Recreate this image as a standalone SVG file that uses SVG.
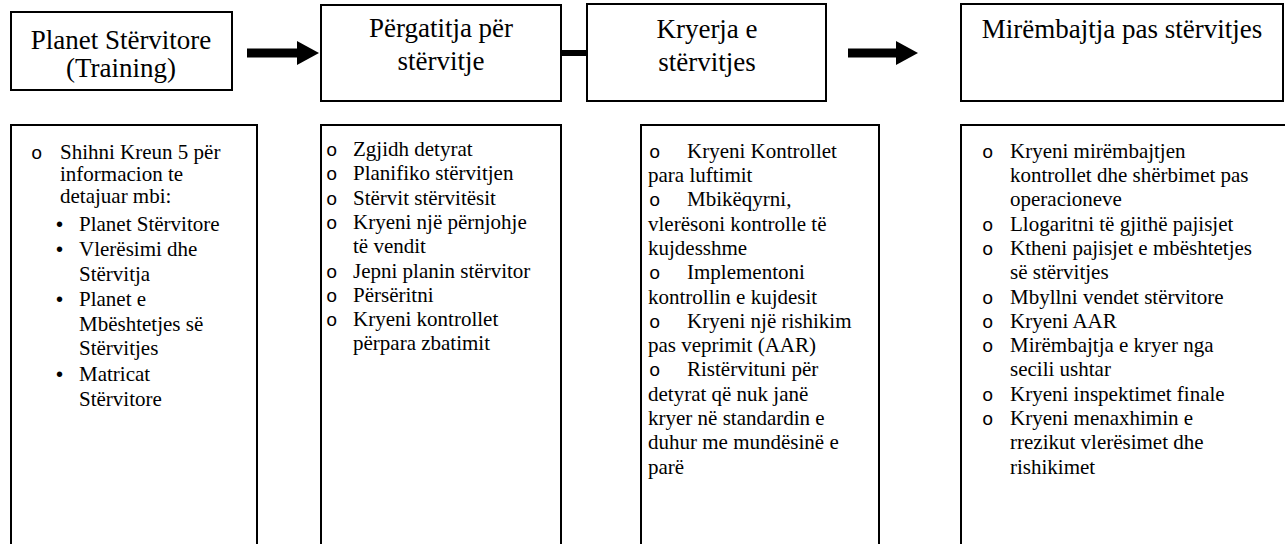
<svg xmlns="http://www.w3.org/2000/svg" width="1285" height="544" viewBox="0 0 1285 544">
<style>
.box{fill:#fff;stroke:#000;stroke-width:2}
.h{font-family:'Liberation Serif','Times New Roman',serif;font-size:27px;fill:#000;text-anchor:middle}
.t{font-family:'Liberation Serif','Times New Roman',serif;font-size:21px;fill:#000}
.o{font-family:'Liberation Mono','Courier New',monospace;font-size:19px;fill:#000}
.b{font-family:'Liberation Sans',Arial,sans-serif;font-size:20px;fill:#000}
.c{stroke:#000;fill:none}
</style>
<defs>
<marker id="head" viewBox="0 0 22 24" refX="0" refY="12" markerWidth="22" markerHeight="24" markerUnits="userSpaceOnUse" orient="auto">
<path d="M0,0 L22,12 L0,24 Z" fill="#000"/>
</marker>
</defs>
<rect width="1285" height="544" fill="#fff"/>
<g id="connectors">
<line class="c" x1="247" y1="53" x2="297" y2="53" stroke-width="9" marker-end="url(#head)"/>
<line class="c" x1="561" y1="53" x2="587" y2="53" stroke-width="6"/>
<line class="c" x1="848" y1="53" x2="896" y2="53" stroke-width="9" marker-end="url(#head)"/>
</g>
<g id="node-planet">
<rect class="box" x="11" y="12" width="221" height="78"/>
<text class="h" x="121" y="49">Planet Stërvitore</text>
<text class="h" x="121" y="77">(Training)</text>
</g>
<g id="node-pergatitja">
<rect class="box" x="321" y="5" width="240" height="96"/>
<text class="h" x="441" y="37">Përgatitja për</text>
<text class="h" x="441" y="70">stërvitje</text>
</g>
<g id="node-kryerja">
<rect class="box" x="587" y="4" width="239" height="97"/>
<text class="h" x="707" y="38">Kryerja e</text>
<text class="h" x="707" y="71">stërvitjes</text>
</g>
<g id="node-mirembajtja">
<rect class="box" x="961" y="4" width="322" height="97"/>
<text class="h" x="1122" y="38">Mirëmbajtja pas stërvitjes</text>
</g>
<g id="list-planet">
<rect class="box" x="11" y="125" width="246" height="440"/>
<text class="o" x="31" y="159">o</text>
<text class="t" x="60" y="159">Shihni Kreun 5 për</text>
<text class="t" x="60" y="181">informacion te</text>
<text class="t" x="60" y="203">detajuar mbi:</text>
<text class="b" x="56" y="231">•</text>
<text class="t" x="79" y="231">Planet Stërvitore</text>
<text class="b" x="56" y="256">•</text>
<text class="t" x="79" y="256">Vlerësimi dhe</text>
<text class="t" x="79" y="281">Stërvitja</text>
<text class="b" x="56" y="306">•</text>
<text class="t" x="79" y="306">Planet e</text>
<text class="t" x="79" y="331">Mbështetjes së</text>
<text class="t" x="79" y="355">Stërvitjes</text>
<text class="b" x="56" y="381">•</text>
<text class="t" x="79" y="381">Matricat</text>
<text class="t" x="79" y="406">Stërvitore</text>
</g>
<g id="list-pergatitja">
<rect class="box" x="321" y="125" width="240" height="440"/>
<text class="o" x="326" y="156">o</text>
<text class="o" x="326" y="180.3">o</text>
<text class="o" x="326" y="204.6">o</text>
<text class="o" x="326" y="229">o</text>
<text class="o" x="326" y="277.5">o</text>
<text class="o" x="326" y="302">o</text>
<text class="o" x="326" y="326">o</text>
<text class="t" x="353" y="156">Zgjidh detyrat</text>
<text class="t" x="353" y="180.3">Planifiko stërvitjen</text>
<text class="t" x="353" y="204.6">Stërvit stërvitësit</text>
<text class="t" x="353" y="229">Kryeni një përnjohje</text>
<text class="t" x="353" y="253">të vendit</text>
<text class="t" x="353" y="277.5">Jepni planin stërvitor</text>
<text class="t" x="353" y="302">Përsëritni</text>
<text class="t" x="353" y="326">Kryeni kontrollet</text>
<text class="t" x="353" y="350">përpara zbatimit</text>
</g>
<g id="list-kryerja">
<rect class="box" x="641" y="125" width="238" height="440"/>
<text class="o" x="649" y="157.7">o</text>
<text class="o" x="649" y="206.3">o</text>
<text class="o" x="649" y="279.2">o</text>
<text class="o" x="649" y="327.8">o</text>
<text class="o" x="649" y="376.4">o</text>
<text class="t" x="687" y="157.7">Kryeni Kontrollet</text>
<text class="t" x="648" y="182">para luftimit</text>
<text class="t" x="687" y="206.3">Mbikëqyrni,</text>
<text class="t" x="648" y="230.6">vlerësoni kontrolle të</text>
<text class="t" x="648" y="254.9">kujdesshme</text>
<text class="t" x="687" y="279.2">Implementoni</text>
<text class="t" x="648" y="303.5">kontrollin e kujdesit</text>
<text class="t" x="687" y="327.8">Kryeni një rishikim</text>
<text class="t" x="648" y="352.1">pas veprimit (AAR)</text>
<text class="t" x="687" y="376.4">Ristërvituni për</text>
<text class="t" x="648" y="400.7">detyrat që nuk janë</text>
<text class="t" x="648" y="425">kryer në standardin e</text>
<text class="t" x="648" y="449.3">duhur me mundësinë e</text>
<text class="t" x="648" y="473.6">parë</text>
</g>
<g id="list-mirembajtja">
<rect class="box" x="961" y="125" width="340" height="440"/>
<text class="o" x="982" y="157.7">o</text>
<text class="o" x="982" y="230.6">o</text>
<text class="o" x="982" y="254.9">o</text>
<text class="o" x="982" y="303.5">o</text>
<text class="o" x="982" y="327.8">o</text>
<text class="o" x="982" y="352.1">o</text>
<text class="o" x="982" y="400.7">o</text>
<text class="o" x="982" y="425">o</text>
<text class="t" x="1010" y="157.7">Kryeni mirëmbajtjen</text>
<text class="t" x="1010" y="182">kontrollet dhe shërbimet pas</text>
<text class="t" x="1010" y="206.3">operacioneve</text>
<text class="t" x="1010" y="230.6">Llogaritni të gjithë pajisjet</text>
<text class="t" x="1010" y="254.9">Ktheni pajisjet e mbështetjes</text>
<text class="t" x="1010" y="279.2">së stërvitjes</text>
<text class="t" x="1010" y="303.5">Mbyllni vendet stërvitore</text>
<text class="t" x="1010" y="327.8">Kryeni AAR</text>
<text class="t" x="1010" y="352.1">Mirëmbajtja e kryer nga</text>
<text class="t" x="1010" y="376.4">secili ushtar</text>
<text class="t" x="1010" y="400.7">Kryeni inspektimet finale</text>
<text class="t" x="1010" y="425">Kryeni menaxhimin e</text>
<text class="t" x="1010" y="449.3">rrezikut vlerësimet dhe</text>
<text class="t" x="1010" y="473.6">rishikimet</text>
</g>
</svg>
